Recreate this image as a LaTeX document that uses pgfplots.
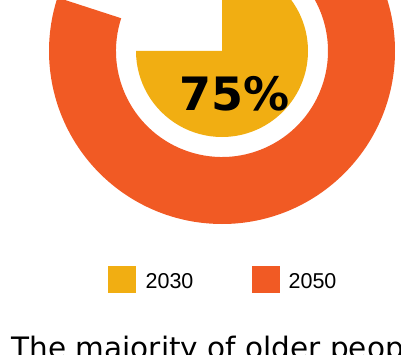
\documentclass[border=0pt]{standalone}
\usepackage{pgfplots}
\pgfplotsset{compat=1.18}
\usepackage{pgfplotstable}
\usepackage{fontspec}
\setmainfont{DejaVu Sans}
\newfontfamily\legfont{Liberation Sans}
\definecolor{c2030}{HTML}{F1AE12}
\definecolor{c2050}{HTML}{F15A24}
\pgfplotstableread{
year value
2030 75
2050 80
}\sharetable
\begin{document}
\begin{tikzpicture}
\useasboundingbox (0,0) rectangle (401bp,355bp);
\clip (0,0) rectangle (401bp,355bp);
\pgfplotstablegetelem{0}{value}\of\sharetable \let\vA\pgfplotsretval
\pgfplotstablegetelem{1}{value}\of\sharetable \let\vB\pgfplotsretval
\pgfmathsetmacro{\dA}{-3.6*\vA}
\pgfmathsetmacro{\dB}{-3.6*\vB}
\pgfmathsetmacro{\eB}{90+\dB}
\pgfmathsetmacro{\iB}{\eB+180}
\begin{axis}[at={(0,0)},anchor=south west,x=1bp,y=1bp,scale only axis,
  xmin=0,xmax=401,ymin=0,ymax=355,hide axis,disabledatascaling,clip=false]
% 2050 ring
\fill[c2050] (axis cs:222,304) ++(90:173bp) arc[start angle=90, delta angle=\dB, radius=173bp]
   -- ++(\iB:67bp) arc[start angle=\eB, delta angle=-\dB, radius=106bp] -- cycle;
% 2030 pie
\fill[c2030] (axis cs:222,304) -- ++(90:86bp) arc[start angle=90, delta angle=\dA, radius=86bp] -- cycle;
\node[anchor=base, inner sep=0pt, font=\fontsize{46bp}{52bp}\selectfont\bfseries] at (axis cs:235,245) {\pgfmathprintnumber[fixed,precision=0,assume math mode=true]{\vA}\%};
% legend
\fill[c2030] (axis cs:108,62) rectangle (axis cs:136,89);
\fill[c2050] (axis cs:252,62) rectangle (axis cs:280,89);
\node[anchor=base west, inner sep=0pt, font=\legfont\fontsize{21.5bp}{24bp}\selectfont] at (axis cs:145.4,66.7) {2030};
\node[anchor=base west, inner sep=0pt, font=\legfont\fontsize{21.5bp}{24bp}\selectfont] at (axis cs:288.4,66.7) {2050};
% title
\node[anchor=base west, inner sep=0pt, font=\fontsize{29.5bp}{34bp}\selectfont] at (axis cs:11.5,-3.5) {The majority of older people};
\end{axis}
\end{tikzpicture}
\end{document}
